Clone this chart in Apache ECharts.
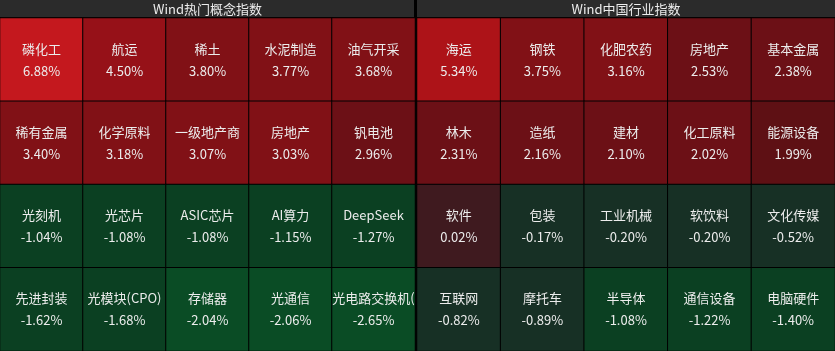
<!DOCTYPE html>
<html>
<head>
<meta charset="utf-8">
<script src="https://cdn.jsdelivr.net/npm/echarts@6/dist/echarts.min.js"></script>
<style>
  html, body { margin: 0; padding: 0; background: #000; }
  #chart { width: 835px; height: 351px; }
</style>
</head>
<body>
<div id="chart"></div>
<script>
const panelTitles = ['Wind热门概念指数', 'Wind中国行业指数']

const conceptNames = [
  '磷化工', '航运', '稀土', '水泥制造', '油气开采',
  '稀有金属', '化学原料', '一级地产商', '房地产', '钒电池',
  '光刻机', '光芯片', 'ASIC芯片', 'AI算力', 'DeepSeek',
  '先进封装', '光模块(CPO)', '存储器', '光通信', '光电路交换机(OCS)',
]
const conceptValues = [
  6.88, 4.50, 3.80, 3.77, 3.68,
  3.40, 3.18, 3.07, 3.03, 2.96,
  -1.04, -1.08, -1.08, -1.15, -1.27,
  -1.62, -1.68, -2.04, -2.06, -2.65,
]

const industryNames = [
  '海运', '钢铁', '化肥农药', '房地产', '基本金属',
  '林木', '造纸', '建材', '化工原料', '能源设备',
  '软件', '包装', '工业机械', '软饮料', '文化传媒',
  '互联网', '摩托车', '半导体', '通信设备', '电脑硬件',
]
const industryValues = [
  5.34, 3.75, 3.16, 2.53, 2.38,
  2.31, 2.16, 2.10, 2.02, 1.99,
  0.02, -0.17, -0.20, -0.20, -0.52,
  -0.82, -0.89, -1.08, -1.22, -1.40,
]

const cols = ['0', '1', '2', '3', '4']
const rows = ['0', '1', '2', '3']

// tiles laid out row by row, 5 per row
function toCells(names, values) {
  return names.map((n, i) => ({ name: n, value: [i % 5, Math.floor(i / 5), values[i]] }))
}

const chart = echarts.init(document.getElementById('chart'), null, { renderer: 'canvas' })

const grids = [
  { left: 0, top: 18, width: 415, height: 333 },
  { left: 417, top: 18, width: 418, height: 333 },
]

function tileSeries(idx, names, values) {
  return {
    type: 'heatmap',
    xAxisIndex: idx,
    yAxisIndex: idx,
    data: toCells(names, values),
    itemStyle: { borderColor: '#000', borderWidth: 1 },
    emphasis: { disabled: true },
    label: {
      show: true,
      color: '#ececec',
      fontSize: 13,
      lineHeight: 22,
      fontFamily: 'Noto Sans CJK SC',
      width: 86,
      overflow: 'truncate',
      ellipsis: '',
      formatter: (p) => p.name + '\n' + p.value[2].toFixed(2) + '%',
    },
  }
}

chart.setOption({
  backgroundColor: '#000',
  animation: false,
  grid: grids,
  xAxis: [0, 1].map((i) => ({ type: 'category', gridIndex: i, data: cols, show: false })),
  yAxis: [0, 1].map((i) => ({ type: 'category', gridIndex: i, data: rows, inverse: true, show: false })),
  visualMap: {
    type: 'piecewise',
    show: false,
    dimension: 2,
    seriesIndex: [0, 1],
    pieces: [
      { gte: 6, color: '#c4181e' },
      { gte: 5, lt: 6, color: '#ad1318' },
      { gte: 4, lt: 5, color: '#961118' },
      { gte: 3, lt: 4, color: '#811116' },
      { gte: 2, lt: 3, color: '#6c1016' },
      { gte: 1, lt: 2, color: '#5e1014' },
      { gte: 0, lt: 1, color: '#3f1a1f' },
      { gte: -1, lt: 0, color: '#173025' },
      { gte: -2, lt: -1, color: '#0b4022' },
      { lt: -2, color: '#0a4c25' },
    ],
  },
  graphic: panelTitles.flatMap((t, i) => [
    {
      type: 'rect',
      shape: { x: grids[i].left, y: 0, width: grids[i].width - (i === 0 ? 1 : 0), height: 17 },
      style: { fill: '#2b2b2b' },
    },
    {
      type: 'text',
      x: grids[i].left + grids[i].width / 2,
      y: 9,
      style: {
        text: t,
        fill: '#ececec',
        font: '13px "Noto Sans CJK SC"',
        textAlign: 'center',
        textVerticalAlign: 'middle',
      },
    },
  ]),
  series: [
    tileSeries(0, conceptNames, conceptValues),
    tileSeries(1, industryNames, industryValues),
  ],
})
</script>
</body>
</html>
